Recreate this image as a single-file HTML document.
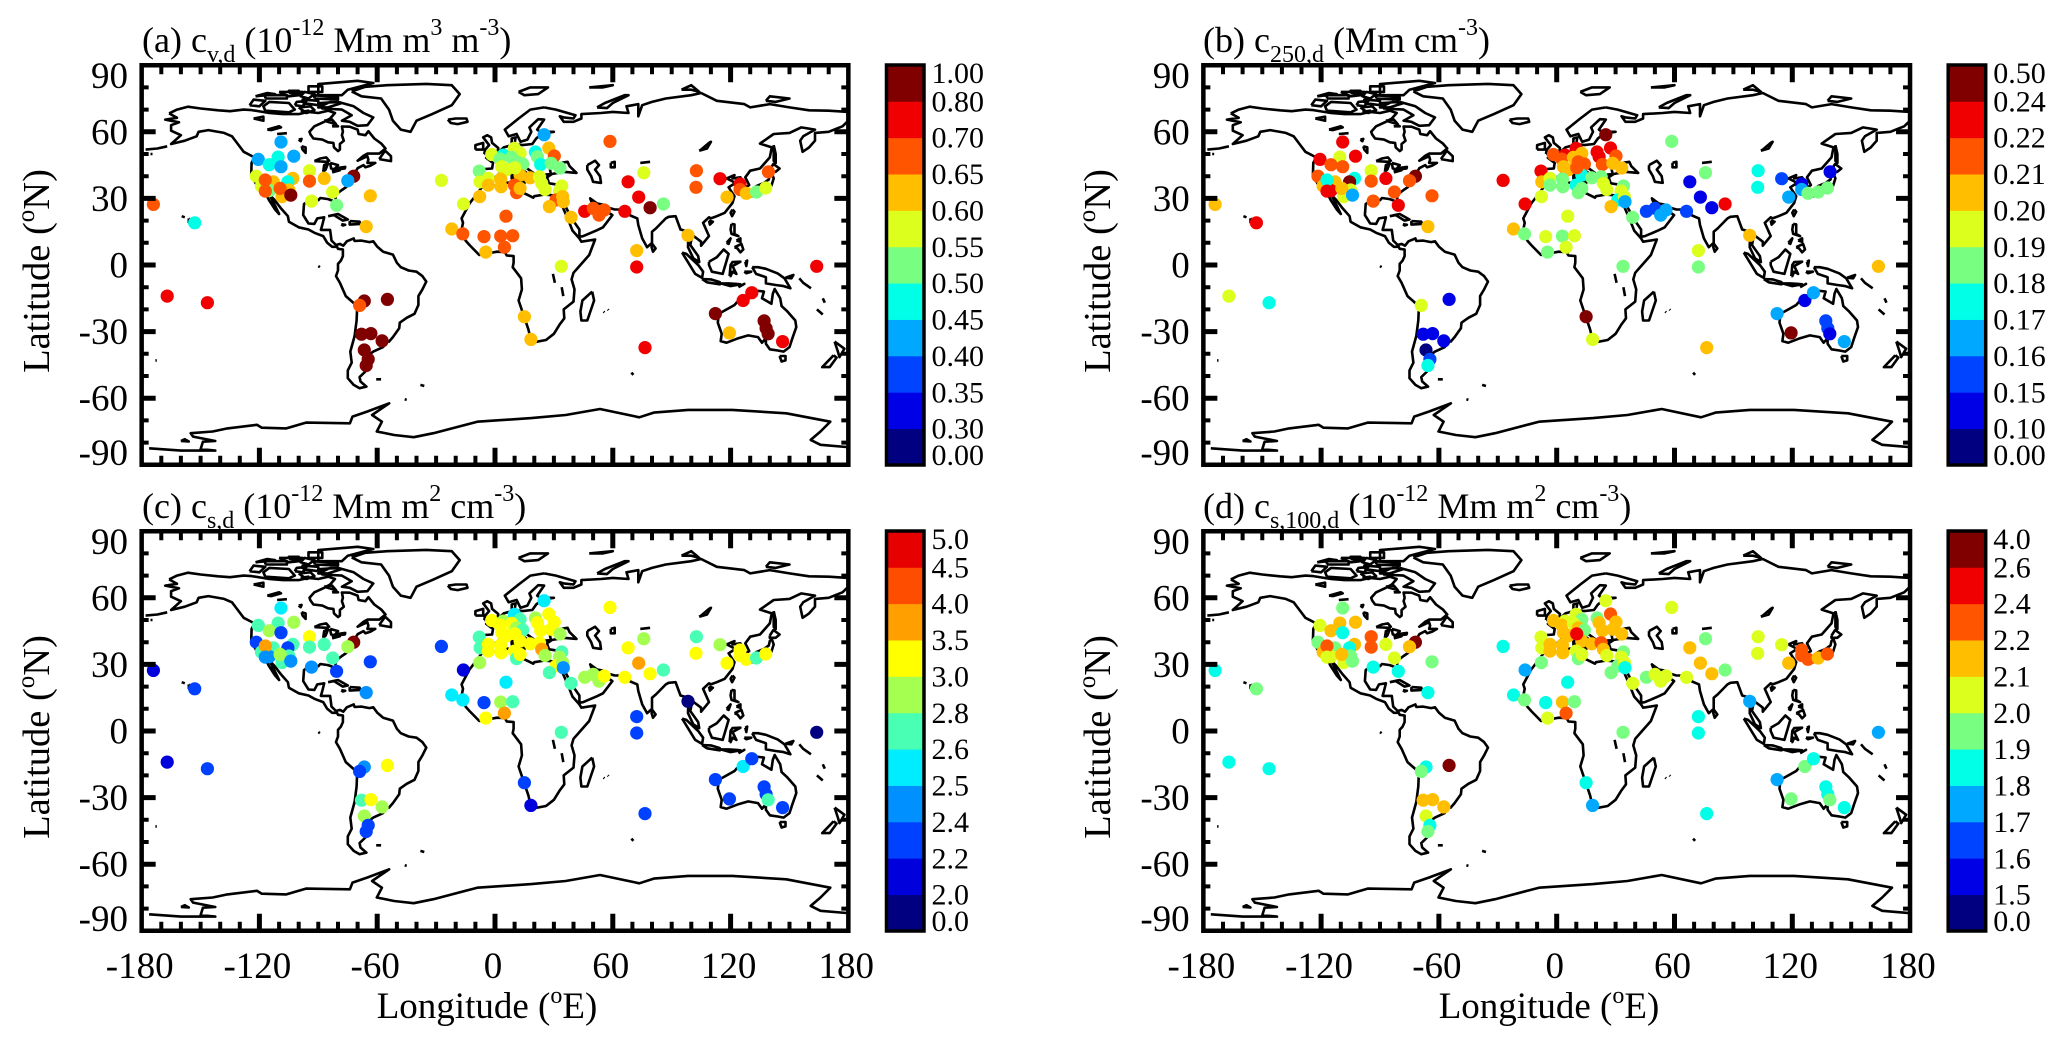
<!DOCTYPE html>
<html lang="en">
<head>
<meta charset="utf-8">
<title>Global station maps of dust parameters</title>
<style>
html,body{margin:0;padding:0;background:#fff;}
svg{display:block;}
text{font-family:"Liberation Serif","Times New Roman",serif;fill:#000;}
</style>
</head>
<body>
<svg id="chart" xmlns="http://www.w3.org/2000/svg" width="2067" height="1047" viewBox="0 0 2067 1047">
  <rect x="0" y="0" width="2067" height="1047" fill="#fff"/>

  <text x="142" y="52" font-size="36">(a) c<tspan font-size="24" dy="10">v,d</tspan><tspan dy="-10"> (10</tspan><tspan font-size="24" dy="-17">-12</tspan><tspan dy="17"> Mm m</tspan><tspan font-size="24" dy="-17">3</tspan><tspan dy="17"> m</tspan><tspan font-size="24" dy="-17">-3</tspan><tspan dy="17">)</tspan></text>
  <text x="1203" y="52" font-size="36">(b) c<tspan font-size="24" dy="10">250,d</tspan><tspan dy="-10"> (Mm cm</tspan><tspan font-size="24" dy="-17">-3</tspan><tspan dy="17">)</tspan></text>
  <text x="142" y="518" font-size="36">(c) c<tspan font-size="24" dy="10">s,d</tspan><tspan dy="-10"> (10</tspan><tspan font-size="24" dy="-17">-12</tspan><tspan dy="17"> Mm m</tspan><tspan font-size="24" dy="-17">2</tspan><tspan dy="17"> cm</tspan><tspan font-size="24" dy="-17">-3</tspan><tspan dy="17">)</tspan></text>
  <text x="1203" y="518" font-size="36">(d) c<tspan font-size="24" dy="10">s,100,d</tspan><tspan dy="-10"> (10</tspan><tspan font-size="24" dy="-17">-12</tspan><tspan dy="17"> Mm m</tspan><tspan font-size="24" dy="-17">2</tspan><tspan dy="17"> cm</tspan><tspan font-size="24" dy="-17">-3</tspan><tspan dy="17">)</tspan></text>

  <text transform="translate(49,271) rotate(-90)" text-anchor="middle" font-size="38.5">Latitude (<tspan font-size="25" dy="-15">o</tspan><tspan dy="15">N)</tspan></text>
  <text transform="translate(1110,271) rotate(-90)" text-anchor="middle" font-size="38.5">Latitude (<tspan font-size="25" dy="-15">o</tspan><tspan dy="15">N)</tspan></text>
  <text transform="translate(49,737) rotate(-90)" text-anchor="middle" font-size="38.5">Latitude (<tspan font-size="25" dy="-15">o</tspan><tspan dy="15">N)</tspan></text>
  <text transform="translate(1110,737) rotate(-90)" text-anchor="middle" font-size="38.5">Latitude (<tspan font-size="25" dy="-15">o</tspan><tspan dy="15">N)</tspan></text>

  <text x="487" y="1018" text-anchor="middle" font-size="37">Longitude (<tspan font-size="24" dy="-15">o</tspan><tspan dy="15">E)</tspan></text>
  <text x="1549" y="1018" text-anchor="middle" font-size="37">Longitude (<tspan font-size="24" dy="-15">o</tspan><tspan dy="15">E)</tspan></text>

  <g id="panels"></g>
</svg>

<script>
const xTickLabels = [-180, -120, -60, 0, 60, 120, 180];
const yTickLabels = [90, 60, 30, 0, -30, -60, -90];

const stationLon = [-174,-153,-167,-146.5,-109,-120.6,-110.5,-102.5,-115,-109,
-121.6,-119,-113,-115,-117,-117,-103,-105.5,-108.5,-105,
-109.5,-104,-94.5,-94.5,-87,-93.5,-82.7,-80.7,-72,-75,
-63.5,-65.6,-27.3,25,27.4,30.2,20.6,21.6,23.3,28.6,
33.1,-1.7,4.3,2.6,9.9,12.8,8.5,11,14.1,6,
3.4,-8,-7.6,-3.4,-3.4,2.9,3.1,12.8,17.9,22.6,
23.8,25.5,9.9,11,12.8,34,32.8,31.1,34.5,34.8,
10.2,-16.1,-7.8,5.6,-22,-16.4,-5.6,2.9,9,-4.7,
4.8,33.8,38.7,27.7,45.7,50.1,53,55.7,58.6,66.1,
67.8,75.8,73.2,79,85.8,102.6,102.4,114.6,124.8,124.8,
128,133.2,137.9,139.3,118.2,98.3,72.2,72.2,163.9,-66.6,
-54.8,-69,-68,-63.2,-57.5,-66.6,-64.6,-65.6,15,18.3,
76.4,112.3,126.4,130.8,137.1,138.1,139.1,119.4,146.5];

const stationLat = [27.3,19,-14,-17,55.4,47.6,48.6,49,45.2,44.3,
40,35.6,37.5,33.5,38.3,33.3,39,37.5,30.8,33.8,
34.5,31.5,42.5,37.8,39,28.8,32.9,26.9,40,38,
31.2,17.3,38.1,58.7,52.7,49.1,50.9,48.8,45.3,45.8,
43.7,49.8,49.5,47.7,52.6,50.3,48.5,46.5,45.5,43,
44.3,42.3,37.5,39,36,38.7,35.3,40.5,39.3,39.8,
36.8,34,36,32.6,34.5,35.6,33.3,29.3,30.8,28.5,
43.8,27.5,30.8,22,16.2,14,12.8,13,13.2,5.8,
8,-0.6,21.5,26.3,24.2,25.5,22.5,24.8,55.7,24.2,
37.5,41.6,30.6,25.8,27.5,42.5,35,38.9,36.5,34,
32.3,32.9,34.7,42,30.6,13.4,6.5,-0.9,-0.6,-16.2,
-15.5,-18.2,-31.2,-30.9,-34.2,-38.3,-42.5,-45.3,-23.3,-33.5,
-37.2,-21.9,-16,-12.5,-25.2,-28.5,-31,-30.6,-34.5];

const valuesA = [.67,.47,.75,.75,.42,.42,.47,.42,.47,.42,
.57,.57,.62,.52,.67,.67,.62,.47,.62,.62,
.67,.9,.57,.67,.62,.57,.57,.52,.9,.42,
.62,.62,.57,.42,.62,.67,.47,.52,.47,.52,
.52,.57,.47,.52,.57,.57,.52,.52,.52,.57,
.57,.52,.57,.57,.62,.62,.62,.62,.62,.57,
.57,.57,.67,.67,.62,.57,.57,.67,.62,.62,
.57,.57,.62,.67,.62,.67,.67,.67,.67,.62,
.67,.57,.62,.62,.75,.67,.67,.67,.67,.75,
.75,.57,.75,.9,.52,.67,.67,.75,.75,.67,
.62,.52,.57,.67,.62,.62,.62,.75,.75,.9,
.9,.67,.9,.9,.9,.9,.9,.9,.62,.62,
.75,.9,.75,.75,.9,.9,.9,.62,.75];

const valuesB = [.205,.23,.195,.175,.23,.23,.195,.23,.215,.215,
.215,.205,.205,.23,.175,.23,.175,.3,.195,.195,
.205,.165,.195,.215,.23,.215,.215,.23,.3,.215,
.215,.205,.23,.3,.23,.215,.23,.23,.215,.205,
.205,.215,.23,.215,.23,.205,.205,.215,.215,.205,
.205,.23,.205,.195,.185,.185,.185,.175,.185,.185,
.195,.195,.175,.185,.185,.185,.195,.175,.195,.165,
.215,.23,.195,.195,.205,.185,.195,.185,.195,.185,
.195,.185,.185,.205,.155,.155,.165,.165,.185,.155,
.12,.185,.12,.12,.23,.175,.175,.155,.12,.165,
.185,.185,.185,.12,.165,.205,.195,.185,.205,null,
.12,.195,.12,.12,.12,.05,.155,.175,.3,.195,
.205,.165,.12,.165,.155,.155,.12,.3,.165];

const valuesC = [2.1,2.3,2.1,2.3,2.55,2.7,2.7,2.9,2.9,2.3,
2.3,2.7,2.7,2.45,3.7,2.45,2.7,2.3,2.7,2.7,
2.9,2.45,3.2,2.7,2.7,2.45,2.7,2.3,5.5,2.9,
2.3,2.45,2.3,2.55,3.2,3.2,2.9,3.2,3.2,3.2,
2.9,3.2,2.9,3.2,2.55,2.7,3.2,2.9,2.7,3.2,
3.2,2.7,2.7,3.2,3.2,3.2,3.2,3.2,3.2,3.2,
3.7,2.9,3.2,2.7,3.2,2.7,2.9,3.2,2.9,2.45,
3.2,2.1,2.9,2.55,2.55,2.55,2.3,2.9,2.7,3.2,
3.7,2.7,2.7,2.7,2.9,2.9,2.9,3.2,3.2,3.2,
3.2,2.9,3.7,3.2,2.7,2.7,3.2,2.9,3.2,3.2,
3.2,2.7,3.2,null,3.2,1,2.3,2.3,1,2.45,
3.2,2.3,2.7,3.2,2.9,2.9,2.3,2.3,2.3,2.1,
2.3,2.3,2.55,2.3,2.3,2.3,2.7,2.3,2.3];

const valuesD = [1.85,1.95,1.85,1.85,1.95,2.05,2.15,2.15,2.15,1.85,
1.95,2.15,1.95,2.05,2.3,2.05,2.15,1.85,2.05,1.95,
2.15,1.95,2.3,2.3,2.05,1.85,2.05,1.85,3,2.15,
1.95,1.85,1.85,2.05,2.3,2.15,1.95,2.15,2.15,2.15,
2.15,2.15,2.05,2.15,2.05,1.95,2.05,2.15,1.95,2.15,
2.15,2.05,2.05,2.15,2.15,2.15,2.15,2.15,2.15,2.3,
2.15,2.05,2.05,1.95,2.05,1.95,2.05,1.95,2.05,1.85,
2.5,1.75,1.95,1.85,1.85,1.95,1.85,2.15,1.95,2.05,
2.3,1.95,2.05,1.95,1.95,2.05,2.05,2.05,2.05,2.05,
2.15,1.95,2.15,2.15,1.95,2.05,2.05,2.05,2.3,2.3,
2.3,2.15,2.3,null,2.15,1.75,1.85,1.85,1.75,1.85,
3,1.95,2.15,2.15,2.15,2.05,1.85,1.95,1.85,1.75,
1.85,1.75,1.95,1.85,1.85,1.85,1.95,1.95,1.85];

const levelLabelsA = ['0.00','0.30','0.35','0.40','0.45','0.50','0.55','0.60','0.65','0.70','0.80','1.00'];
const levelLabelsB = ['0.00','0.10','0.15','0.16','0.17','0.18','0.19','0.20','0.21','0.22','0.24','0.50'];
const levelLabelsC = ['0.0','2.0','2.2','2.4','2.5','2.6','2.8','3.0','3.5','4.0','4.5','5.0'];
const levelLabelsD = ['0.0','1.5','1.6','1.7','1.8','1.9','2.0','2.1','2.2','2.4','2.6','4.0'];

const paletteMain = ['#000080','#0000e6','#0044ff','#00a8ff','#00ffe6','#78ff82','#dcff1e','#ffbe00','#ff5500','#f00000','#800000'];
const paletteC = ['#000080','#0000dc','#0040ff','#0090ff','#00ecff','#48ffb4','#a4ff50','#ffff00','#ffa000','#ff4d00','#e60000','#800000'];

const coastlines = [
[-166,68.3,-162,70,-156.5,71.3,-150,70.5,-141,69.7,-135,69.3,-128,70,-124,69.8,-115,68.5,-108,68,-100,68,-95,69,-90,68.5,-85,69.5,-81.5,68.5,-84,66,-87,64.5,-92,62.5,-94.5,60,-94,58.8,-92.5,57,-88,56.5,-85,55.3,-82.3,55,-82,53,-80,51.3,-79,52,-79,54.5,-77,56,-78,58.5,-77.5,60,-78,62.4,-74,62.3,-70,61,-69.5,59,-66,58.5,-64.5,60.3,-61.5,57,-58,54.8,-55.8,52.5,-59,50.2,-65,50.2,-67,49.2,-70,47,-65,49,-64.5,47.5,-65,46,-61,46,-63.5,44.7,-66,44,-67,45,-70,43.6,-71,42,-74,40.6,-75.5,38,-76,36.8,-75.7,35.2,-78,33.8,-81,31.8,-81.3,30,-80,26.8,-80.8,25.2,-82,27,-83,29,-85,29.7,-89,30.2,-90,29.2,-94,29.6,-97.3,27.5,-97.7,22.5,-95,18.7,-92,18.5,-90.5,21,-87,21.5,-88,18,-88.7,15.8,-84,15.8,-83.3,11,-81,9,-79,9.5,-77.3,8.7,-75.5,10.7,-72,12,-71.5,10.8,-68,11,-64,10.3,-62,10.7,-60,8.3,-57,6,-52,4.7,-50,1,-48,-1,-44,-2.5,-40,-3,-37,-5,-35,-7.5,-37,-11,-39,-14,-39,-18,-41,-22,-45,-23.8,-48.5,-26,-48.8,-28.5,-52,-32.5,-54,-34.5,-58,-34.3,-57,-37,-62,-39,-65,-41,-63.5,-42.5,-65.5,-45,-67.5,-46.5,-66,-48,-69,-50.5,-68.5,-52.5,-65.5,-54.8,-69,-55.5,-72,-54,-75,-51,-75,-47.5,-73,-44,-73.7,-39,-71.5,-32,-70.5,-25,-70.2,-18.5,-76,-14,-79,-8,-81,-5,-80,-2.5,-80,0.5,-78.5,2,-77.5,4,-77.5,7,-80,7.3,-80.5,8.2,-83,8.2,-85.5,10,-87.5,13,-92,14.5,-95,16,-100,17,-105,19.5,-105.5,22,-109,25.5,-112.5,29.5,-114.8,31.6,-112.5,27.5,-110,23,-112,25,-115,29,-117,32.5,-120.5,34.5,-122.5,37.8,-124.2,40.3,-124,46,-122.5,48.5,-128,51,-131,54.5,-134,58,-138,59.5,-146,60.8,-151,60,-152,58,-158,56,-165,54.5,-160,58.5,-165,60.5,-165,63,-161,64.3,-168,65.5,-162,66.3,-166,68.3],
[-73,78.2,-66,80.3,-55,81,-35,81.6,-22,81,-18,77,-22,72,-32,68,-40,65,-43,60,-48,61,-52,65,-54,70,-58,75,-68,76,-73,78.2],
[-80,73.5,-72,71.5,-67,68.5,-62,66.5,-65,63,-70,62.7,-74,64.5,-78,65,-73,67.5,-78,70,-88,70.5,-89,73,-80,73.5],
[-117,69.5,-105,68.8,-102,70,-105,73,-115,73.5,-118,71.5,-117,69.5],
[-90,76.5,-78,76.5,-75,79,-62,82,-70,83,-90,81.5,-90,76.5],
[-125,72,-120,71.5,-117,74,-123,74.5,-125,72],
[-92,75,-80,74.5,-80,75.5,-92,76.5,-92,75],
[-98,73,-90,72,-90,74,-98,74.5,-98,73],
[-117,75,-106,75,-106,76.5,-117,76.5,-117,75],
[-95,78,-88,78,-88,80.5,-95,80.5,-95,78],
[-105,77.5,-100,77,-100,78.5,-105,78.5,-105,77.5],
[-110,78,-105,76,-100,76.5,-98,78,-110,78],
[-122,76,-116,77.5,-112,77,-122,76],
[-100,71,-94,71.5,-92,69.8,-96,68.5,-100,71],
[-84,73.5,-78,73,-85,71,-90,71,-84,73.5],
[-95,75,-92,77,-97,78,-99,76,-95,75],
[-102,72,-98,71.5,-96,74,-101,73.5,-102,72],
[-99,69,-95,69.5,-96,68.5,-99,69],
[-83,62.5,-80,62.5,-81,63,-83,62.5],
[-87,65,-81,63.5,-83,65.5,-87,65],
[-59,47.7,-53,46.8,-53,49,-56,51.5,-59,47.7],
[-92,46.8,-86,46.5,-84.5,47,-86,48.5,-89,48,-92,46.8],
[-87.5,42,-86.3,43,-85,45.8,-87,45,-87.5,42],
[-84,46,-80,45,-81.7,43.2,-83.5,43.5,-84,46],
[-83,41.7,-79,42.7,-79,43.2,-76.5,43.5,-76.3,44.2,-79.5,43.8,-83,42.2],
[-123,66,-118,66.8,-118,65,-123,66],
[-116,61,-110,62.5,-109,62,-114,60.8,-116,61],
[-111,59,-106,59.4],
[-98.5,53.5,-96.5,53,-96.5,50.5,-98,52,-98.5,53.5],
[-100,56.5,-98.5,56.8,-99,55.8,-100,56.5],
[-85,22,-80,23,-75,20.5,-77.5,20,-82,22.5,-85,22],
[-74,19.8,-69,19.5,-68.5,18.5,-74,18.2,-74,19.8],
[-78.3,18.4,-76.3,18.1,-77.5,17.8,-78.3,18.4],
[-67.2,18.4,-65.7,18.3,-66,18,-67.2,18.4],
[-24,65.5,-20,66,-14.5,66,-14,64.5,-19,63.5,-22.5,64,-24,65.5],
[25,71,31,70,41,67.5,40,66,35,66.5,33,67,35,64.5,40,64.5,44,66,44,68,54,68.5,60,69,68,68.5,67,71.5,73,72.5,73,67,75,72,80,73.5,87,75,100,76.5,105,77.5,113,74,127,72.5,130,71,140,72.5,150,71,160,69.7,170,69.5,180,69],
[180,65,177,62.5,170,60,163,59.5,163,56,160,53,156.7,51,155.5,56,157,58,163,61,156,62,150,59.5,142,59,135,54.7,141,53,140,48.5,135,43.5,130,42.5,127.5,39.5,129.5,36,127,34.5,126.5,37.5,125,39.5,121,39,122,40.5,118,39,122.5,37,119,35,122,31,121,28,117,23.5,113,22,110,21,109,21.5,106,19,109,13,105,8.7,105,10.5,100.5,13.5,99.5,9,103.5,4,104,1.3,101,3,98.3,8,98.5,15,94.5,16,92,22,88.5,21.7,87,21,82,16.5,80,15,80,10,77.5,8,75,12,73,18,72.5,21,69,22.3,67,25,61,25,57,26,56.5,27,52,27.7,48.5,30,50,26.5,51.5,25,52,24,54.5,24.3,56.3,26,58,23.5,59.8,22.5,55,17,52,15.7,45,13,43,12.7,43,16,39,21,35,28,34.5,28,32.7,29.7],
[34.3,31.3,36,36,32,36.2,27.5,36.8,26.5,39.5,29,41,35,42,41.5,41.5,38,44.5,37,46.5,33.5,46,33.5,44.5,31,46.5,28,43,28.5,41,23.5,40.5,24,38,22.5,36.5,21,38,19.5,41.5,14,45,12.5,45.5,13,43.5,18.5,40,16.5,39.5,16,38,15.5,40,10.5,43,8,44.4,3,43,3,41.7,0,39.5,-2,36.8,-5.5,36,-9,37,-9,43,-1.5,43.5,-1,46,-4.5,48.3,-1.5,48.7,2,51,4.5,53,8.5,54,8.5,57,10.5,57.5,10,54.5,14,54,19,54.5,21,57,24,59.2,30,60,23,60,21.5,61,25,65.5,22,65.7,17.5,62,18.5,60,16.5,56.5,13,55.5,11,59,7,58,5,61,12,66,18,70,25,71],
[32.7,29.7,32.5,31.2,25,31.7,20,31,19.5,30.3,15,32.3,10.5,34,11,37,9.5,37.3,3,36.8,-2,35,-6,35.8,-9.7,31.5,-13,27.7,-17,21,-16.3,19,-17.3,14.7,-15,11,-13,9,-8,4.5,-4,5.2,1,6,5,5.8,6,4.3,9.5,4,9.5,1,9,-1,13.3,-6,13.7,-11,12,-16,14.5,-22.5,17,-29,18.3,-33.8,20,-34.8,26,-33.8,30,-31,32.8,-27,35.3,-24,35,-20,40,-16.5,40.5,-11,39,-6.5,40,-3.5,43,-0.5,48,4.5,51,11.5,44,10.5,43,12,39.5,15.5,37,21,35.5,24,33.5,28,32.7,29.7],
[47,45,51,47,53,45,51,43,53.5,40,54,37,50,37.5,49,40,47,43,47,45],
[59,46,61,46.5,61,44,59,44,59,46],
[104,51.5,108,52.5,110,55.5,109,55,105,52,104,51.5],
[74,46,79,46.5],
[52,71,56,73,66,76.5,68,76.5,60,73,57,70.7,52,71],
[95,79,100,79,104,78,100,81,95,79],
[12,78,18,80,27,80,22,77,15,76.5,12,78],
[48,80,60,81,55,80,48,80],
[138,74,143,73.5,150,75,140,76,138,74],
[142,54,143,50,143,46,142,47,142,54],
[141,41.4,142,39,140.8,35.7,136.8,34.5,132.5,34.3,131,34,133,35.5,137,37,139.5,38.5,140,40.5,141,41.4],
[130,33.5,131.8,33.5,131,31,130,32,130,33.5],
[140,43,141.8,45.5,145,43.5,143,42,140,42,140,43],
[132.5,34,134.5,34,134,33,132.5,33,132.5,34],
[121,25,122,24,120.8,22,120,23.5,121,25],
[109,20,111,19.5,109.5,18.2,109,20],
[80,9.7,81.8,7.5,80.5,6,79.8,8,80,9.7],
[120.5,18.5,122,18.3,122,14,124,13,120.5,14,120,16,120.5,18.5],
[122,8,125.5,9.5,126.5,7,125,5.7,123.5,7.5,122,8],
[118,10,120,12,119,9.5,118,10],
[123,11,125,12,125,10.5,123,11],
[109,1.5,113,3.5,116.5,7,119,5,117.7,1,116,-4,110.5,-3,109,0,109,1.5],
[95.3,5.6,97.5,5,103.5,0,106,-3,105.5,-5.8,102,-4,98.5,1,95.3,5.6],
[105.5,-6.3,110,-6.5,114.5,-7.7,114.5,-8.7,108,-7.8,105.5,-6.3],
[115,-8.3,119,-8.3,123,-8.5,125,-8.7,120,-9.5,115,-8.3],
[124,-10,127,-8.5,125,-9.5,124,-10],
[119.5,-5,120,0,121,1.3,125,1.5,121,-0.5,123,-4,121,-3,120,-5,119.5,-5],
[127.5,1.5,128.5,2,128,-0.5,127.5,1.5],
[127,-3,130.5,-3,128,-3.7,127,-3],
[131,-1,134,-1,138,-1.7,144,-3.8,147.5,-6,150.5,-10.5,147,-9.5,143,-9,138,-8.3,138,-5.5,133,-4,131,-1],
[148,-5.7,152,-4.5,151,-6,148,-5.7],
[155,-6,157,-8,161,-10.5],
[164,-20,167,-22.3],
[167,-15,168,-17],
[173,-34.5,178,-37.7,175.5,-41.5,174.7,-39,173,-34.5],
[172.5,-40.7,174,-41.7,170.5,-46,166.7,-46,172.5,-40.7],
[145,-41,148,-41,148,-43,146,-43.5,145,-41],
[49.5,-12,50.5,-16,47,-25,44,-25,43.5,-21,44.5,-16,49.5,-12],
[114,-22,113.5,-26,115.5,-31,115,-34.3,118,-35,124,-33,129,-31.7,134,-32.5,136,-35,138,-33,138,-35.5,140,-38,144,-38.5,147,-39,150,-37,151.5,-33,153.5,-28,153,-25,149,-21,146,-18.5,145.3,-15,142.5,-10.8,141.5,-13,140.8,-17.5,136,-15,137,-12,132.5,-11.5,129.5,-15,126,-14,122,-18,117,-20.5,114,-22],
[29.5,-4,30.5,-8],
[34,-10,34.8,-14],
[31.5,0,34,-1,33,-2.5],
[-5.5,50,1.3,51.2,1.7,52.7,-1.5,55,-2,57.5,-4,58.5,-6,57.5,-3,54,-5,52,-5.5,50],
[-10,52,-6,52,-6,55,-10,54,-10,52],
[8.5,41,9.5,41,9.5,39,8.5,39,8.5,41],
[12.5,38,15.5,38,15,36.8,12.5,38],
[23.5,35.5,26,35.2],
[32.5,35,34.5,35.5],
[-178,52,-172,52.5,-167,53.5],
[-175.5,50,-174.5,50],
[-156,21,-155,20,-156,19.2,-156,21],
[-159.6,22,-158,21.5],
[-90,-0.5,-89.2,-1],
[-60.5,-51.5,-58,-51.5],
[-38,-54,-36,-54.5],
[-46,-60.5,-45,-60.8],
[69.5,-48.5,70.5,-49.5],
[-173,-43,-172.3,-43],
[55.3,-21,55.8,-21.3],
[57.5,-20,57.8,-20.3],
[-176.2,-82.6,-160,-83.6,-142.5,-83.6,-150,-83,-148.8,-79.6,-142.5,-79.3,-153.8,-77.3,-155,-75.8,-143.8,-75,-136.3,-73.6,-121.3,-72,-118.8,-73.3,-106.3,-73.6,-96.3,-71,-73.9,-71.3,-72.6,-68.3,-65,-66,-53.9,-62.3,-62.6,-67.6,-57.6,-70.6,-60.2,-75,-51.4,-76.6,-41.4,-77.6,-31.4,-75.8,-9,-70.6,18.5,-69,36,-67.6,53.5,-64.9,73.5,-68.6,80.9,-66.5,98.4,-65.3,120.9,-65.3,148.4,-66.8,170.8,-70.6,165.8,-75,160.8,-78.8,165.8,-81,179,-82],
[-160,-79.3,-156,-79.5,-158,-78.5,-160,-79.3]
];

const panelIds = ['a','b','c','d'];
const panelCentreX = [495,1556.7,495,1556.7];
const panelCentreY = [265,265,731,731];
const panelValues = [valuesA,valuesB,valuesC,valuesD];
const panelLevels = [levelLabelsA,levelLabelsB,levelLabelsC,levelLabelsD];
const panelPalettes = [paletteMain,paletteMain,paletteC,paletteMain];

const SVGNS = 'http://www.w3.org/2000/svg';
const pxPerLon = 1.963;
const pxPerLat = 2.2195;
const root = document.getElementById('panels');

function make(tag, parent) {
  const el = document.createElementNS(SVGNS, tag);
  parent.appendChild(el);
  return el;
}
function binColor(value, levels, palette) {
  let idx = 0;
  for (let i = 0; i < levels.length; i++) {
    if (value >= parseFloat(levels[i])) idx = i;
  }
  if (idx > palette.length - 1) idx = palette.length - 1;
  return palette[idx];
}

panelIds.forEach(function (id, p) {
  const cx = panelCentreX[p];
  const cy = panelCentreY[p];
  const xScale = function (lon) { return cx + lon * pxPerLon; };
  const yScale = function (lat) { return cy - lat * pxPerLat; };
  const showX = p >= 2;

  const g = make('g', root);
  
  

  const coast = make('path', g);
  
  
  let d = '';
  coastlines.forEach(function (line) {
    for (let i = 0; i < line.length; i += 2) {
      d += (i === 0 ? 'M' : 'L') + xScale(line[i]).toFixed(1) + ' ' + yScale(line[i + 1]).toFixed(1);
    }
  });
  coast.setAttribute('d', d);
  coast.setAttribute('fill', 'none');
  coast.setAttribute('stroke', '#000');
  coast.setAttribute('stroke-width', '2.6');
  coast.setAttribute('stroke-linejoin', 'round');

  const points = make('g', g);
  
  
  panelValues[p].forEach(function (v, i) {
    if (v === null) return;
    const dot = make('circle', points);
    
    
    dot.setAttribute('cx', xScale(stationLon[i]).toFixed(1));
    dot.setAttribute('cy', yScale(stationLat[i]).toFixed(1));
    dot.setAttribute('r', '6.6');
    dot.setAttribute('fill', binColor(v, panelLevels[p], panelPalettes[p]));
  });

  const frame = make('rect', g);
  
  
  frame.setAttribute('x', xScale(-180));
  frame.setAttribute('y', yScale(90));
  frame.setAttribute('width', xScale(180) - xScale(-180));
  frame.setAttribute('height', yScale(-90) - yScale(90));
  frame.setAttribute('fill', 'none');
  frame.setAttribute('stroke', '#000');
  frame.setAttribute('stroke-width', '4.5');

  const ticks = make('path', g);
  
  
  const ticksMajor = make('path', g);
  
  
  let dMinor = '';
  let dMajor = '';
  const top = yScale(90), bottom = yScale(-90), left = xScale(-180), right = xScale(180);
  for (let lon = -170; lon <= 170; lon += 10) {
    const x = xScale(lon).toFixed(1);
    if (lon % 60 === 0) dMajor += 'M' + x + ' ' + top + 'v17M' + x + ' ' + bottom + 'v-17';
    else dMinor += 'M' + x + ' ' + top + 'v9M' + x + ' ' + bottom + 'v-9';
  }
  for (let lat = -80; lat <= 80; lat += 10) {
    const y = yScale(lat).toFixed(1);
    if (lat % 30 === 0) dMajor += 'M' + left + ' ' + y + 'h14M' + right + ' ' + y + 'h-14';
    else dMinor += 'M' + left + ' ' + y + 'h7M' + right + ' ' + y + 'h-7';
  }
  ticks.setAttribute('d', dMinor);
  ticks.setAttribute('stroke', '#000');
  ticks.setAttribute('stroke-width', '4');
  ticksMajor.setAttribute('d', dMajor);
  ticksMajor.setAttribute('stroke', '#000');
  ticksMajor.setAttribute('stroke-width', '5');

  yTickLabels.forEach(function (lat) {
    const t = make('text', g);
    
    
    t.setAttribute('x', cx - 367);
    let y = yScale(lat) + 12.5;
    if (lat === 90) y = yScale(lat) + 23;
    if (lat === -90) y = yScale(lat);
    t.setAttribute('y', y.toFixed(1));
    t.setAttribute('text-anchor', 'end');
    t.setAttribute('font-size', '37');
    t.textContent = String(lat);
  });

  if (showX) {
    xTickLabels.forEach(function (lon) {
      const t = make('text', g);
      
      
      t.setAttribute('x', (xScale(lon) - 2).toFixed(1));
      t.setAttribute('y', cy + 247);
      t.setAttribute('text-anchor', 'middle');
      t.setAttribute('font-size', '37');
      t.textContent = String(lon);
    });
  }

  const bar = make('g', g);
  
  
  const barX = cx + 391.5;
  const barW = 37.5;
  const barTop = cy - 200;
  const barH = 400;
  const palette = panelPalettes[p];
  const nBins = 11;
  const binH = barH / nBins;
  for (let i = 0; i < nBins; i++) {
    const s = make('rect', bar);
    
    
    s.setAttribute('x', barX);
    s.setAttribute('y', (barTop + barH - (i + 1) * binH).toFixed(2));
    s.setAttribute('width', barW);
    s.setAttribute('height', (binH + 0.4).toFixed(2));
    s.setAttribute('fill', palette[i]);
  }
  const barFrame = make('rect', bar);
  
  
  barFrame.setAttribute('x', barX);
  barFrame.setAttribute('y', barTop);
  barFrame.setAttribute('width', barW);
  barFrame.setAttribute('height', barH);
  barFrame.setAttribute('fill', 'none');
  barFrame.setAttribute('stroke', '#000');
  barFrame.setAttribute('stroke-width', '3.5');

  panelLevels[p].forEach(function (label, i) {
    const t = make('text', bar);
    
    
    t.setAttribute('x', barX + 45);
    let centre = barTop + barH - i * binH;
    if (i === 0) centre = barTop + barH - 10;
    if (i === panelLevels[p].length - 1) centre = barTop + 8;
    t.setAttribute('y', (centre + 10).toFixed(1));
    t.setAttribute('font-size', '30');
    t.textContent = label;
  });
});
</script>
</body>
</html>
